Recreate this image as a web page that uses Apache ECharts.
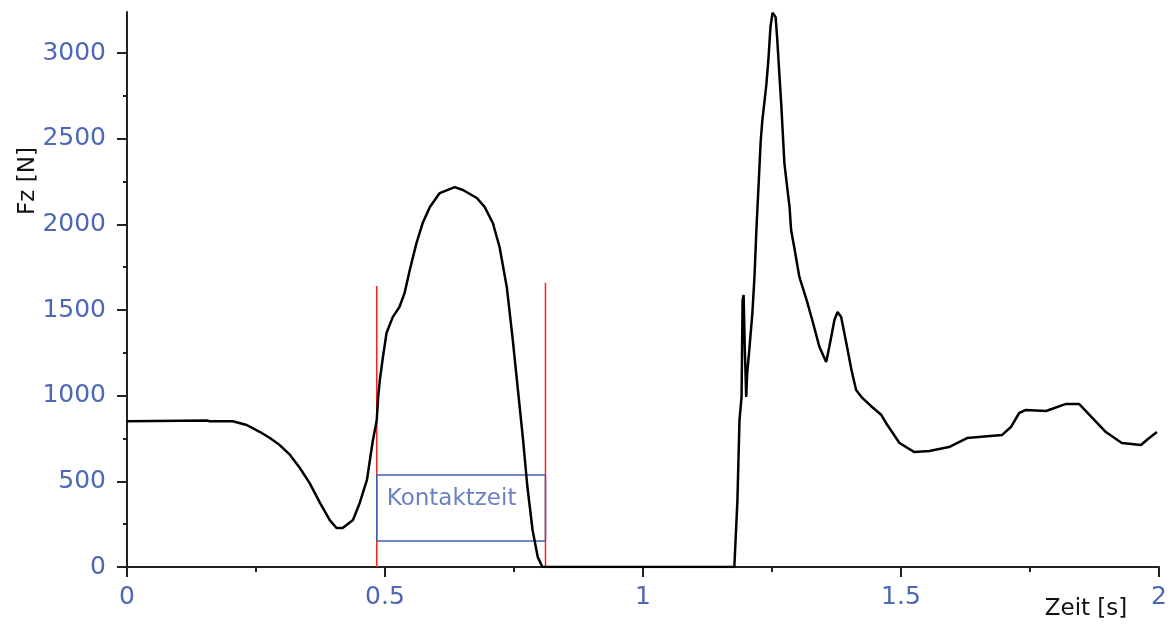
<!DOCTYPE html>
<html>
<head>
<meta charset="utf-8">
<script src="https://cdn.jsdelivr.net/npm/echarts@6/dist/echarts.min.js"></script>
<style>
  html, body { margin: 0; padding: 0; background: #fff; }
  #chart { width: 1171px; height: 627px; }
</style>
</head>
<body>
<div id="chart"></div>
<script>
// Vertical ground reaction force of a jump
const time = [0, 0.155, 0.160, 0.205, 0.232, 0.258, 0.277, 0.296, 0.316, 0.335, 0.354, 0.374, 0.393, 0.406, 0.418, 0.438, 0.451, 0.465, 0.476, 0.484, 0.487, 0.490, 0.496, 0.503, 0.515, 0.528, 0.538, 0.548, 0.561, 0.573, 0.587, 0.606, 0.635, 0.651, 0.678, 0.693, 0.709, 0.722, 0.736, 0.747, 0.757, 0.767, 0.776, 0.786, 0.796, 0.805, 1.0, 1.177, 1.183, 1.187, 1.191, 1.193, 1.195, 1.197, 1.200, 1.202, 1.206, 1.212, 1.216, 1.220, 1.224, 1.228, 1.231, 1.239, 1.243, 1.247, 1.251, 1.257, 1.260, 1.264, 1.268, 1.274, 1.280, 1.284, 1.287, 1.293, 1.303, 1.317, 1.328, 1.342, 1.355, 1.361, 1.371, 1.377, 1.384, 1.394, 1.404, 1.413, 1.425, 1.444, 1.462, 1.471, 1.497, 1.526, 1.555, 1.593, 1.628, 1.696, 1.713, 1.729, 1.742, 1.781, 1.820, 1.845, 1.897, 1.928, 1.965, 1.981, 1.996];
const force = [851, 855, 851, 851, 829, 788, 753, 712, 654, 578, 490, 374, 274, 228, 228, 274, 374, 508, 730, 858, 1000, 1092, 1226, 1366, 1459, 1518, 1600, 1734, 1891, 2008, 2102, 2183, 2218, 2201, 2154, 2102, 2008, 1868, 1635, 1343, 1051, 759, 467, 216, 58, 0, 0, 0, 390, 858, 993, 1559, 1588, 1308, 993, 1133, 1267, 1483, 1693, 1985, 2230, 2481, 2598, 2814, 2960, 3152, 3235, 3211, 3088, 2890, 2697, 2358, 2201, 2102, 1967, 1868, 1693, 1559, 1442, 1284, 1197, 1284, 1442, 1489, 1459, 1308, 1150, 1033, 987, 934, 887, 841, 724, 671, 677, 700, 753, 771, 817, 899, 917, 911, 952, 952, 788, 724, 712, 753, 788];

// Contact phase markers
const contactStart = 0.484;
const contactEnd = 0.811;
const markerTopStart = 1640;
const markerTopEnd = 1660;
const boxBottom = 152;
const boxTop = 537;
const contactLabel = 'Kontaktzeit';

// Axis ticks
const xTicks = [0, 0.5, 1, 1.5, 2];
const yMajorTicks = [0, 500, 1000, 1500, 2000, 2500, 3000];
const yMinorTicks = [250, 750, 1250, 1750, 2250, 2750];
const yMax = 3240;

const blue = '#4e68b8';
const font = 'DejaVu Sans';

const curve = time.map((t, i) => [t, force[i]]);

const chart = echarts.init(document.getElementById('chart'), null, { renderer: 'canvas' });
chart.setOption({
  animation: false,
  backgroundColor: '#ffffff',
  grid: { left: 127, right: 12, top: 12, bottom: 60, containLabel: false },
  xAxis: {
    type: 'value',
    min: xTicks[0],
    max: xTicks[xTicks.length - 1],
    interval: 0.5,
    axisLine: { show: true, onZero: false, lineStyle: { color: '#222', width: 2 } },
    axisTick: { show: true, length: 10, lineStyle: { color: '#222', width: 2 } },
    minorTick: { show: true, splitNumber: 2, length: 5, lineStyle: { color: '#222', width: 2 } },
    splitLine: { show: false },
    axisLabel: { color: blue, fontFamily: font, fontSize: 25, margin: 18,
                 formatter: v => String(v) }
  },
  yAxis: [
    {
      type: 'value',
      min: 0,
      max: yMax,
      axisLine: { show: true, lineStyle: { color: '#222', width: 2 } },
      axisTick: { show: true, length: 10, customValues: yMajorTicks, lineStyle: { color: '#222', width: 2 } },
      splitLine: { show: false },
      axisLabel: { color: blue, fontFamily: font, fontSize: 25, margin: 21, customValues: yMajorTicks,
                   formatter: v => String(v) }
    },
    {
      type: 'value',
      min: 0,
      max: yMax,
      position: 'left',
      axisLine: { show: false },
      axisTick: { show: true, length: 4, customValues: yMinorTicks, lineStyle: { color: '#222', width: 2 } },
      splitLine: { show: false },
      axisLabel: { show: false }
    }
  ],
  graphic: [
    {
      type: 'text', x: 28, y: 181, rotation: Math.PI / 2,
      style: { text: 'Fz [N]', font: '23px "DejaVu Sans"', fill: '#111', align: 'center', verticalAlign: 'middle' }
    },
    {
      type: 'text', x: 1086, y: 609,
      style: { text: 'Zeit [s]', font: '23px "DejaVu Sans"', fill: '#111', align: 'center', verticalAlign: 'middle' }
    }
  ],
  series: [
    {
      type: 'line', name: 'start', data: [[contactStart, 0], [contactStart, markerTopStart]],
      symbol: 'none', lineStyle: { color: '#ff2020', width: 1.5 }, z: 2
    },
    {
      type: 'line', name: 'end', data: [[contactEnd, 0], [contactEnd, markerTopEnd]],
      symbol: 'none', lineStyle: { color: '#ff2020', width: 1.5 }, z: 2
    },
    {
      type: 'line', name: 'box',
      data: [[contactStart, boxBottom], [contactEnd, boxBottom], [contactEnd, boxTop], [contactStart, boxTop], [contactStart, boxBottom]],
      symbol: 'none', lineStyle: { color: '#3f5db5', width: 1.5 }, z: 3
    },
    {
      type: 'scatter', name: 'label',
      data: [[contactStart, (boxBottom + boxTop) / 2 + 55]],
      symbolSize: 0,
      label: { show: true, position: 'right', distance: 10, formatter: contactLabel,
               color: '#4662b4', fontFamily: font, fontSize: 23 },
      z: 3
    },
    {
      type: 'line', name: 'Fz', data: curve,
      symbol: 'none', lineStyle: { color: '#000', width: 2.5 }, z: 5
    }
  ]
});
</script>
</body>
</html>
